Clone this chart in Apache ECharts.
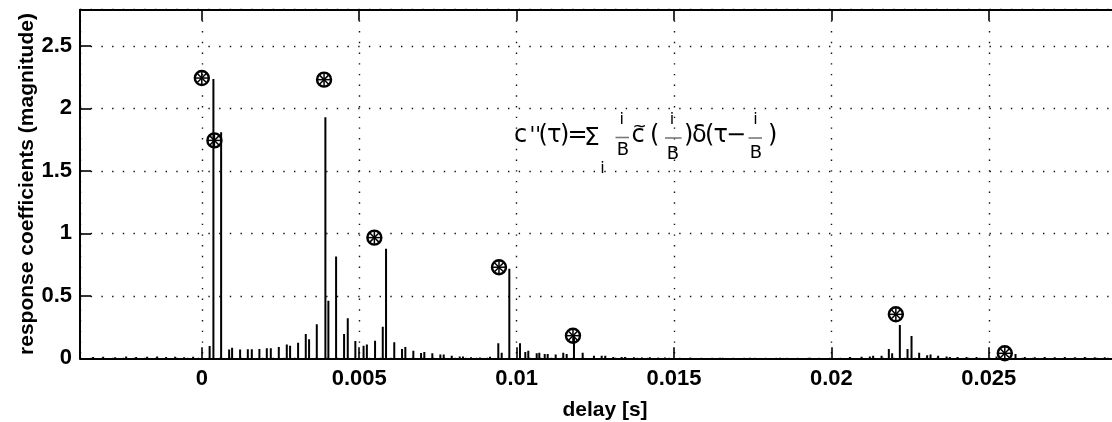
<!DOCTYPE html>
<html>
<head>
<meta charset="utf-8">
<script src="https://cdn.jsdelivr.net/npm/echarts@6/dist/echarts.min.js"></script>
<style>
  html, body { margin: 0; padding: 0; background: #fff; }
  #chart { width: 1112px; height: 422px; }
</style>
</head>
<body>
<div id="chart"></div>
<script>
// Impulse response stems: delay [s] and coefficient magnitude
const stemDelays = [
  -0.003452, -0.003134, -0.002753, -0.002404, -0.002086, -0.001737, -0.001419, -0.001134, -0.000848, -0.000562,
  -0.000276,
  0.000248, 0.000368, 0.000613, 0.000867, 0.000962, 0.001216, 0.001461, 0.001588, 0.001829, 0.002064,
  0.002191, 0.002445, 0.002699, 0.002804, 0.003058, 0.003302, 0.003407, 0.003652, 0.003925, 0.004020,
  0.004265, 0.004519, 0.004636, 0.004877, 0.005138, 0.005243, 0.005503, 0.005748, 0.005852, 0.006113,
  0.006360, 0.006465, 0.006719, 0.006964, 0.007068, 0.007322, 0.007577, 0.007684, 0.007939, 0.008193,
  0.008297, 0.008551, 0.008837, 0.009155, 0.009418, 0.009526, 0.009768, 0.010107, 0.010276, 0.010371,
  0.010638, 0.010720, 0.010892, 0.010987, 0.011241, 0.011482, 0.011590, 0.011822, 0.012098, 0.012457,
  0.012702, 0.012816, 0.013070, 0.013337, 0.013442, 0.013727, 0.013981, 0.014235, 0.014489, 0.014712,
  0.015509, 0.016462, 0.017414, 0.018367, 0.019319, 0.020586, 0.020958, 0.021221, 0.021326, 0.021593,
  0.021824, 0.021929, 0.022174, 0.022418, 0.022545, 0.022787, 0.023041, 0.023149, 0.023390, 0.023657,
  0.023762, 0.024006, 0.024292, 0.024609, 0.025245, 0.025848, 0.026143, 0.026461, 0.026778, 0.027096,
  0.027413, 0.027731, 0.028049, 0.028366, 0.028684
];
const stemValues = [
  0.010, 0.012, 0.008, 0.014, 0.010, 0.012, 0.015, 0.010, 0.012, 0.008,
  0.012,
  0.099, 2.236, 1.810, 0.070, 0.085, 0.070, 0.072, 0.072, 0.075, 0.080,
  0.080, 0.090, 0.110, 0.100, 0.125, 0.195, 0.152, 0.272, 1.930, 0.460,
  0.814, 0.195, 0.320, 0.139, 0.100, 0.110, 0.140, 0.253, 0.876, 0.128,
  0.075, 0.090, 0.060, 0.043, 0.050, 0.040, 0.030, 0.030, 0.020, 0.015,
  0.015, 0.008, 0.006, 0.012, 0.120, 0.045, 0.716, 0.120, 0.050, 0.060,
  0.040, 0.045, 0.035, 0.035, 0.030, 0.045, 0.035, 0.180, 0.045, 0.020,
  0.020, 0.020, 0.010, 0.010, 0.010, 0.008, 0.006, 0.008, 0.005, 0.006,
  0.004, 0.004, 0.004, 0.004, 0.004, 0.010, 0.012, 0.015, 0.020, 0.020,
  0.075, 0.040, 0.267, 0.075, 0.179, 0.045, 0.025, 0.030, 0.020, 0.015,
  0.010, 0.010, 0.010, 0.010, 0.015, 0.035, 0.010, 0.008, 0.010, 0.008,
  0.010, 0.008, 0.010, 0.008, 0.008
];

// Discrete path estimates (circled asterisks)
const markerDelays = [0.0, 0.0004, 0.003883, 0.005481, 0.00944, 0.01179, 0.022047, 0.025508];
const markerValues = [2.243, 1.744, 2.23, 0.966, 0.729, 0.181, 0.352, 0.04];

// Axis ranges and tick spacing
const xRange = [-0.00387, 0.029485];
const yRange = [0, 2.79];
const xTickStep = 0.005;
const yTickStep = 0.5;

const labelFont = { color: '#000', fontFamily: 'Liberation Sans', fontWeight: 'bold', fontSize: 22 };
const nameFont = { color: '#000', fontFamily: 'Liberation Sans', fontWeight: 'bold', fontSize: 21 };
const gridDots = { color: '#111', width: 1.4, type: [1.4, 9.3] };

const stemData = stemDelays.map((d, i) => [d, stemValues[i]]);
const markerData = markerDelays.map((d, i) => [d, markerValues[i]]);

// Formula annotation pieces: [text, x, baseline, fontSize, align]
const formulaFont = 'DejaVu Sans';
const formulaPieces = [
  ['c', 514, 144, 24, 'left'],
  ["''", 529.5, 144, 21, 'left'],
  ['(', 538.5, 144, 24, 'left'],
  ['\u03C4', 547, 144, 24, 'left'],
  [')', 560, 144, 24, 'left'],
  ['=', 567.5, 144, 24, 'left'],
  ['\u03A3', 584, 147.5, 25, 'left'],
  ['i', 602.5, 174, 16, 'center'],
  ['i', 621.8, 125.5, 16, 'center'],
  ['B', 623, 157, 18, 'center'],
  ['c', 631.5, 144, 24, 'left'],
  ['~', 639.5, 133, 17, 'center'],
  ['(', 650, 144, 24, 'left'],
  ['i', 672, 125.5, 16, 'center'],
  ['B', 673, 160.5, 18, 'center'],
  [')', 684, 144, 24, 'left'],
  ['\u03B4', 692, 144, 24, 'left'],
  ['(', 705, 144, 24, 'left'],
  ['\u03C4', 713.5, 144, 24, 'left'],
  ['\u2212', 726, 144, 24, 'left'],
  ['i', 755.5, 125.5, 16, 'center'],
  ['B', 756, 159.5, 18, 'center'],
  [')', 768, 144, 24, 'left']
];
const fractionBars = [[615.5, 629, 137.5], [665, 681.5, 138], [748.5, 762, 138]];

const graphicElements = formulaPieces.map(([t, x, base, fs, align]) => ({
  type: 'text',
  x: x,
  y: base - 0.346 * fs,
  z: 100,
  style: {
    text: t, fontSize: fs, fontFamily: formulaFont, fontWeight: 'normal', fill: '#000',
    align: align, textAlign: align, verticalAlign: 'middle', textVerticalAlign: 'middle'
  }
})).concat(fractionBars.map(([x1, x2, y]) => ({
  type: 'line', z: 100,
  shape: { x1: x1, y1: y, x2: x2, y2: y },
  style: { stroke: '#7a7a7a', lineWidth: 1.6 }
})));

const chart = echarts.init(document.getElementById('chart'), null, { renderer: 'canvas' });

const commonX = {
  type: 'value', min: xRange[0], max: xRange[1],
  minInterval: xTickStep, maxInterval: xTickStep, splitNumber: 7
};

chart.setOption({
  animation: false,
  backgroundColor: '#fff',
  grid: { left: 80, top: 9.7, width: 1050, height: 348.6, containLabel: false, outerBoundsMode: 'none' },
  xAxis: [
    Object.assign({}, commonX, {
      position: 'bottom',
      name: 'delay [s]', nameLocation: 'middle', nameGap: 41, nameMoveOverlap: false,
      nameTextStyle: nameFont,
      axisLine: { show: true, onZero: false, lineStyle: { color: '#000', width: 2 } },
      axisTick: { show: true, inside: true, length: 11, lineStyle: { color: '#000', width: 1.6 } },
      axisLabel: Object.assign({ show: true, margin: 10, showMinLabel: false, showMaxLabel: false }, labelFont),
      splitLine: { show: true, lineStyle: gridDots }
    }),
    Object.assign({}, commonX, {
      position: 'top',
      axisLine: { show: true, onZero: false, lineStyle: { color: '#000', width: 2 } },
      axisTick: { show: true, inside: true, length: 11, lineStyle: { color: '#000', width: 1.6 } },
      axisLabel: { show: false },
      splitLine: { show: false }
    })
  ],
  yAxis: [{
    type: 'value', min: yRange[0], max: yRange[1], interval: yTickStep,
    position: 'left',
    name: 'response coefficients (magnitude)', nameLocation: 'middle', nameGap: 42, nameRotate: 90,
    nameMoveOverlap: false,
    nameTextStyle: nameFont,
    axisLine: { show: true, onZero: false, lineStyle: { color: '#000', width: 2 } },
    axisTick: { show: true, inside: true, length: 11, lineStyle: { color: '#000', width: 1.6 } },
    axisLabel: Object.assign({ show: true, margin: 8, showMaxLabel: false }, labelFont),
    splitLine: { show: true, lineStyle: gridDots }
  }],
  graphic: graphicElements,
  series: [
    {
      type: 'custom',
      name: 'stems',
      xAxisIndex: 0, yAxisIndex: 0,
      data: stemData,
      encode: { x: 0, y: 1 },
      clip: true,
      z: 3,
      renderItem: function (params, api) {
        const base = api.coord([api.value(0), 0]);
        const top = api.coord([api.value(0), api.value(1)]);
        return {
          type: 'line',
          shape: { x1: base[0], y1: base[1], x2: top[0], y2: top[1] },
          style: { stroke: '#000', lineWidth: 2 }
        };
      }
    },
    {
      type: 'custom',
      name: 'paths',
      xAxisIndex: 0, yAxisIndex: 0,
      data: markerData,
      encode: { x: 0, y: 1 },
      clip: false,
      z: 4,
      renderItem: function (params, api) {
        const c = api.coord([api.value(0), api.value(1)]);
        const r = 7, s = 6.4, d = s * 0.7071;
        const spoke = (x1, y1, x2, y2) => ({
          type: 'line',
          shape: { x1: c[0] + x1, y1: c[1] + y1, x2: c[0] + x2, y2: c[1] + y2 },
          style: { stroke: '#000', lineWidth: 1.5 }
        });
        return {
          type: 'group',
          children: [
            { type: 'circle', shape: { cx: c[0], cy: c[1], r: r }, style: { fill: 'none', stroke: '#000', lineWidth: 2.4 } },
            spoke(-s, 0, s, 0),
            spoke(0, -s, 0, s),
            spoke(-d, -d, d, d),
            spoke(-d, d, d, -d)
          ]
        };
      }
    }
  ]
});
</script>
</body>
</html>
